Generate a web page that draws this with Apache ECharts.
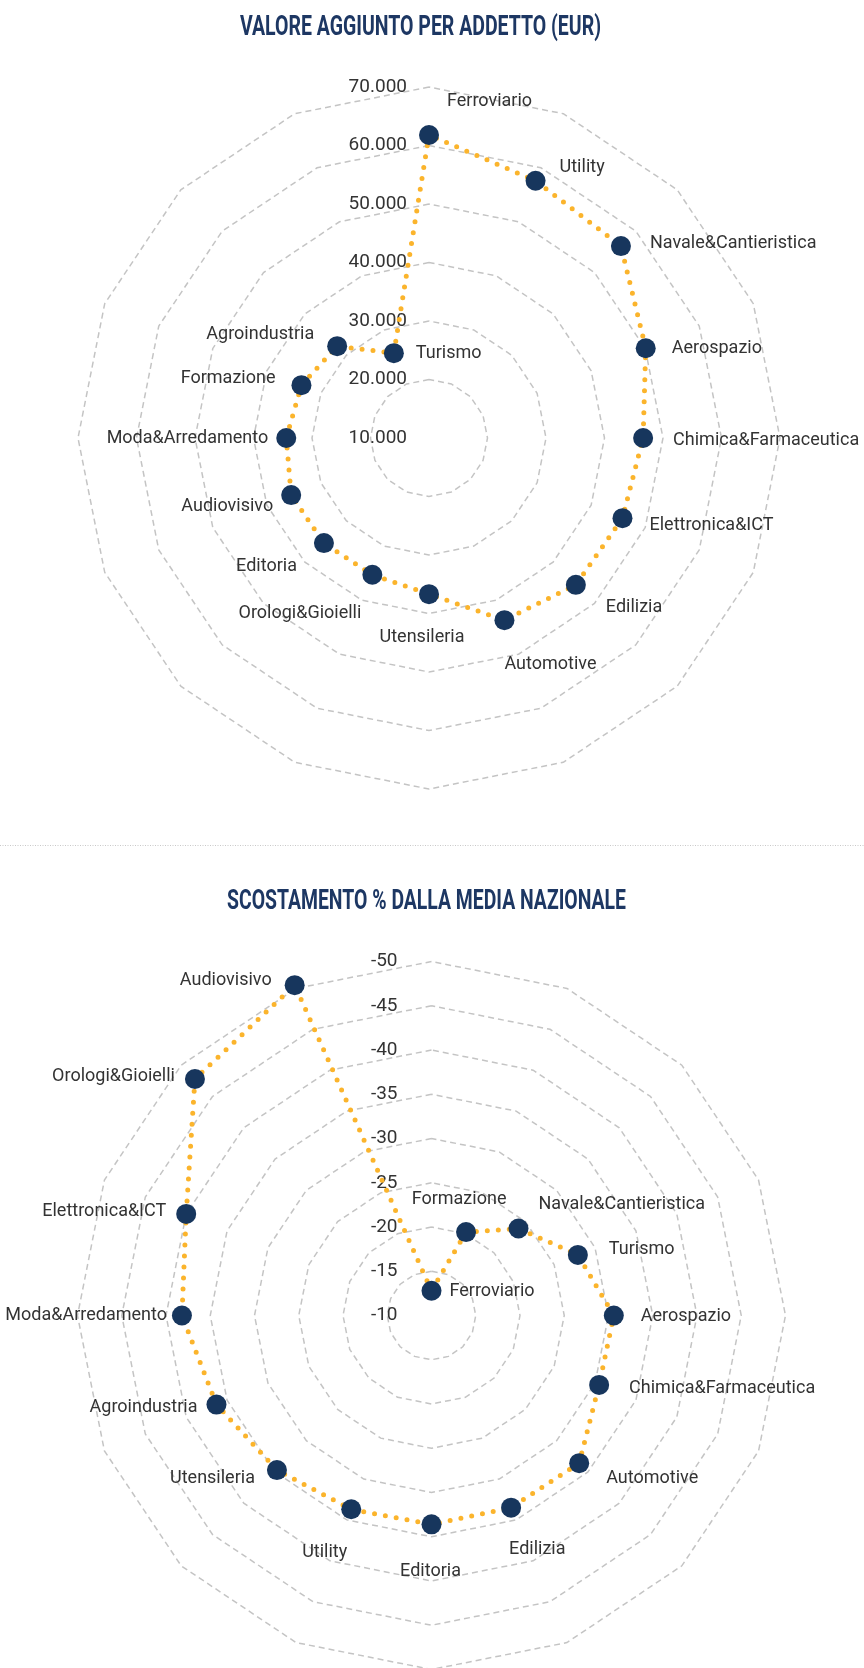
<!DOCTYPE html>
<html>
<head>
<meta charset="utf-8">
<script src="https://cdn.jsdelivr.net/npm/echarts@6/dist/echarts.min.js"></script>
<style>
html,body{margin:0;padding:0;background:#ffffff;}
#chart{width:864px;height:1668px;}
</style>
</head>
<body>
<div id="chart"></div>
<script>
// ---------------- DATA ----------------
const titleTop = 'VALORE AGGIUNTO PER ADDETTO (EUR)';
const titleBottom = 'SCOSTAMENTO % DALLA MEDIA NAZIONALE';

// Chart 1: value added per worker (EUR), clockwise from top
const sectorsTop = ['Ferroviario','Utility','Navale&Cantieristica','Aerospazio','Chimica&Farmaceutica','Elettronica&ICT','Edilizia','Automotive','Utensileria','Orologi&Gioielli','Editoria','Audiovisivo','Moda&Arredamento','Formazione','Agroindustria','Turismo'];
const valueAddedPerWorker = [61800, 57600, 56400, 50100, 46600, 45800, 45500, 43700, 36700, 35300, 35400, 35500, 34400, 33600, 32200, 25700];
const axisTop = {min: 10000, max: 70000, interval: 10000};

// Chart 2: % deviation from national average, clockwise from top
const sectorsBottom = ['Ferroviario','Formazione','Navale&Cantieristica','Turismo','Aerospazio','Chimica&Farmaceutica','Automotive','Edilizia','Editoria','Utility','Utensileria','Agroindustria','Moda&Arredamento','Elettronica&ICT','Orologi&Gioielli','Audiovisivo'];
const deviationPct = [-12.8, -20.2, -23.9, -27.9, -30.6, -30.5, -33.6, -33.5, -33.6, -33.7, -34.7, -36.3, -38.2, -40.0, -47.8, -50.4];
const axisBottom = {min: -50, max: -10, interval: 5};

// ---------------- STYLE / LAYOUT ----------------
const NAVY = '#17365d';
const GOLD = '#fbb42c';
const GRID = '#c4c4c4';
const TEXT = '#333333';
const TITLE = '#1d3763';

// label placement (align, offset from marker centre) — styling only
const placeTop = [
  ['left',18,-33],['left',24,-13],['left',29,-3],['left',26,0],['left',30,2],['left',27,7],['left',30,23],['left',0,44],
  ['center',-7,43],['right',-11,39],['right',-27,23],['right',-18,11],['right',-18,0],['right',-26,-7],['right',-23,-12],['left',22,0]
];
const placeBottom = [
  ['left',18,1],['center',-7,-33],['left',20,-24],['left',31,-5],['left',27,1],['left',30,4],['left',27,15],['left',-2,42],
  ['center',-1,47],['right',-4,43],['right',-22,8],['right',-19,3],['right',-15,0],['right',-20,-2],['right',-20,-2],['right',-23,-5]
];

const TICK_FONT = 'Roboto';
const TICK_SIZE = 19;
const LABEL_FONT = 'Roboto';

function thousands(v){ return String(v).replace(/\B(?=(\d{3})+(?!\d))/g, '.'); }

function measure(font, text){
  const c = document.createElement('canvas').getContext('2d');
  c.font = font; return c.measureText(text).width;
}

// radar places indicators counter-clockwise; reorder a clockwise list
function ccw(arr){ return [arr[0]].concat(arr.slice(1).reverse()); }

const chart = echarts.init(document.getElementById('chart'), null, {renderer:'canvas'});

function radarGrid(center, radius, cats, lo, hi, splits){
  return {
    center: center, radius: radius, startAngle: 90, shape: 'polygon',
    splitNumber: splits,
    indicator: ccw(cats).map(n => ({name: n, min: lo, max: hi})),
    axisName: {show: false},
    axisLine: {show: false},
    axisTick: {show: false},
    axisLabel: {show: false},
    splitArea: {show: false},
    splitLine: {lineStyle: {color: GRID, width: 1.5, type: [6, 4]}}
  };
}

function lineSeries(radarIdx, values){
  return {
    type: 'radar', radarIndex: radarIdx, symbol: 'none', silent: true, z: 3,
    lineStyle: {color: GOLD, width: 5, type: [0, 11], cap: 'round'},
    data: [{value: ccw(values)}]
  };
}

function dotSeries(idx, values, cats, place){
  return {
    type: 'scatter', coordinateSystem: 'polar', polarIndex: idx, clip: false,
    symbol: 'circle', symbolSize: 20, z: 4, silent: true,
    itemStyle: {color: NAVY, opacity: 1},
    label: {show: true, position: 'inside', formatter: '{b}', verticalAlign: 'middle',
            fontFamily: LABEL_FONT, fontSize: 18, color: TEXT, textBorderWidth: 0},
    data: values.map((v, i) => ({
      name: cats[i], value: [v, cats[i]],
      label: {align: place[i][0], offset: [place[i][1], place[i][2]]}
    }))
  };
}

const titleFont = 'bold 28px Roboto';
const sx1 = 361 / measure(titleFont, titleTop);
const sx2 = 399 / measure(titleFont, titleBottom);

const splitsTop = Math.round((axisTop.max - axisTop.min) / axisTop.interval);
const splitsBottom = Math.round((axisBottom.max - axisBottom.min) / axisBottom.interval);

const option = {
  animation: false,
  backgroundColor: '#ffffff',
  radar: [
    radarGrid([429, 438], 351, sectorsTop, axisTop.min, axisTop.max, splitsTop),
    // bottom chart: deviation grows outward (-10 at centre, -50 at rim) -> magnitude scale
    radarGrid([431.5, 1315.5], 354, sectorsBottom, -axisBottom.max, -axisBottom.min, splitsBottom)
  ],
  polar: [
    {center: [429, 438], radius: 351},
    {center: [431.5, 1315.5], radius: 354}
  ],
  angleAxis: [
    {polarIndex: 0, type: 'category', data: sectorsTop, startAngle: 90, clockwise: true, boundaryGap: false,
     axisLine: {show: false}, axisTick: {show: false}, axisLabel: {show: false}, splitLine: {show: false}},
    {polarIndex: 1, type: 'category', data: sectorsBottom, startAngle: 90, clockwise: true, boundaryGap: false,
     axisLine: {show: false}, axisTick: {show: false}, axisLabel: {show: false}, splitLine: {show: false}}
  ],
  radiusAxis: [
    {polarIndex: 0, type: 'value', min: axisTop.min, max: axisTop.max, interval: axisTop.interval,
     axisLine: {show: false}, axisTick: {show: false}, splitLine: {show: false},
     axisLabel: {formatter: thousands, fontFamily: TICK_FONT, fontSize: TICK_SIZE, color: TEXT, margin: 22, align: 'right'}},
    {polarIndex: 1, type: 'value', min: axisBottom.min, max: axisBottom.max, interval: axisBottom.interval, inverse: true,
     axisLine: {show: false}, axisTick: {show: false}, splitLine: {show: false},
     axisLabel: {formatter: v => String(v), fontFamily: TICK_FONT, fontSize: TICK_SIZE, color: TEXT, margin: 34, align: 'right'}}
  ],
  graphic: [
    {type: 'text', x: 420.5, y: 27.5, scaleX: sx1, style: {text: titleTop, font: titleFont, fill: TITLE, align: 'center', verticalAlign: 'middle'}},
    {type: 'text', x: 426.5, y: 902, scaleX: sx2, style: {text: titleBottom, font: titleFont, fill: TITLE, align: 'center', verticalAlign: 'middle'}},
    {type: 'line', shape: {x1: 0, y1: 845.5, x2: 864, y2: 845.5}, style: {stroke: '#c8c8c8', lineWidth: 1, lineDash: [1, 1.5]}}
  ],
  series: [
    lineSeries(0, valueAddedPerWorker),
    dotSeries(0, valueAddedPerWorker, sectorsTop, placeTop),
    lineSeries(1, deviationPct.map(v => -v)),
    dotSeries(1, deviationPct, sectorsBottom, placeBottom)
  ]
};
chart.setOption(option);
</script>
</body>
</html>
